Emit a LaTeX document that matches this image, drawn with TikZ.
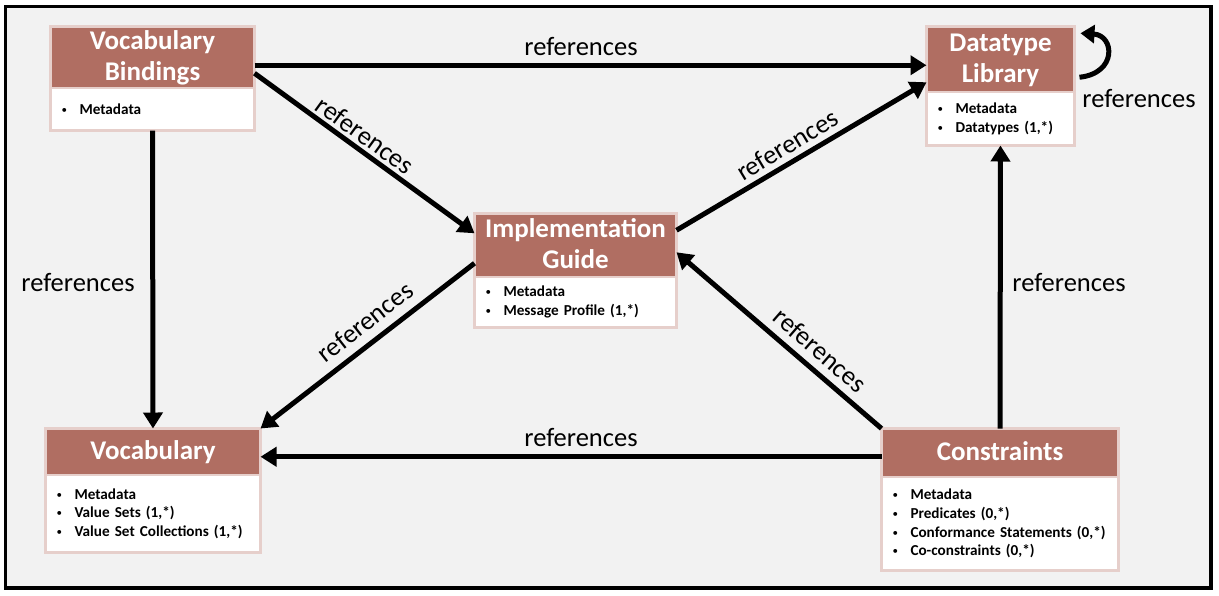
\documentclass[tikz,border=0pt]{standalone}
\usepackage{fontspec}
\setmainfont{Carlito}
\usetikzlibrary{arrows.meta}
\definecolor{hdrcol}{HTML}{B06E62}
\definecolor{brdcol}{HTML}{E6CFCB}
\definecolor{bgcol}{HTML}{F2F2F2}
\newcommand{\bitem}[1]{\mbox{\makebox[18pt][l]{\raisebox{1pt}{\mdseries\fontsize{11}{11}\selectfont\textbullet}}#1}}
\begin{document}
\begin{tikzpicture}[x=1pt,y=-1pt,
 hdr/.style={draw=brdcol, line width=2.5pt, fill=hdrcol, text=white, font=\fontsize{27}{31}\selectfont\bfseries, align=center, outer sep=0pt, anchor=north west, inner xsep=0pt, inner ysep=0pt, text depth=3pt},
 bodybox/.style={draw=brdcol, line width=2.5pt, fill=white, font=\fontsize{15.2}{18.7}\selectfont\bfseries, align=left, outer sep=0pt, anchor=north, inner xsep=11pt, inner ysep=0pt},
 arr/.style={line width=5pt, -{Triangle[length=16pt,width=19pt]}},
 looparr/.style={line width=5pt, -{Triangle[length=14pt,width=18pt]}},
 lbl/.style={font=\fontsize{26.5}{30}\selectfont, inner sep=0pt}]

\useasboundingbox (0,0) rectangle (1219,595);
\draw[line width=3.5pt, fill=bgcol] (5.5,6.5) rectangle (1211,588);

% Vocabulary Bindings
\node[hdr, minimum width=204pt, minimum height=61.5pt] (vbh) at (50.5,26.5) {Vocabulary\\Bindings};
\node[bodybox, text width=182pt, minimum height=42.5pt] (vbb) at (vbh.south) {\bitem{Metadata}};

% Datatype Library
\node[hdr, minimum width=148pt, minimum height=65.5pt] (dlh) at (926.5,26.5) {Datatype\\Library};
\node[bodybox, text width=126pt, minimum height=53.5pt] (dlb) at (dlh.south) {\bitem{Metadata}\\\bitem{Datatypes (1,*)}};

% Implementation Guide
\node[hdr, minimum width=202pt, minimum height=63.5pt] (igh) at (474.5,213.5) {Implementation\\Guide};
\node[bodybox, text width=180pt, minimum height=50.5pt] (igb) at (igh.south) {\bitem{Metadata}\\\bitem{Message Profile (1,*)}};

% Vocabulary
\node[hdr, minimum width=215pt, minimum height=46.5pt] (vh) at (45.5,428.5) {Vocabulary};
\node[bodybox, text width=193pt, minimum height=77.5pt] (vb) at (vh.south) {\bitem{Metadata}\\\bitem{Value Sets (1,*)}\\\bitem{Value Set Collections (1,*)}};

% Constraints
\node[hdr, minimum width=237pt, minimum height=48.5pt] (ch) at (881.5,428.5) {Constraints};
\node[bodybox, text width=215pt, minimum height=93.5pt] (cb) at (ch.south) {\bitem{Metadata}\\\bitem{Predicates (0,*)}\\\bitem{Conformance Statements (0,*)}\\\bitem{Co-constraints (0,*)}};

% connectors
\draw[arr] ([yshift=-8pt]vbh.east) -- ([yshift=-6pt]dlh.west);
\draw[arr] ([yshift=-16pt]vbh.east) -- ([yshift=12pt]igh.west);
\draw[arr] (vbb) -- (vh);
\draw[arr] ([yshift=-18pt]igh.west) -- (vh.north east);
\draw[arr] ([yshift=15pt]igh.east) -- ([yshift=-23pt]dlh.west);
\draw[arr] (ch.north west) -- ([yshift=-7pt]igh.east);
\draw[arr] (ch) -- (dlb);
\draw[arr] ([yshift=-4pt]ch.west) -- ([yshift=-5pt]vh.east);
\draw[looparr] ([xshift=5pt,yshift=-18pt]dlh.east) .. controls +(38,-4) and +(34,2) .. ([xshift=6pt,yshift=26pt]dlh.east);

% labels
\node[lbl] (l1) at (581,47) {references};
\node[lbl, rotate=-36] (l2) at (365,135) {references};
\node[lbl] (l3) at (78,283) {references};
\node[lbl, rotate=38] (l4) at (365,322) {references};
\node[lbl, rotate=31] (l5) at (787,145) {references};
\node[lbl, rotate=-41] (l6) at (820,350) {references};
\node[lbl] (l7) at (1069,283) {references};
\node[lbl] (l8) at (581,438) {references};
\node[lbl] (l9) at (1139,99) {references};
\end{tikzpicture}
\end{document}
